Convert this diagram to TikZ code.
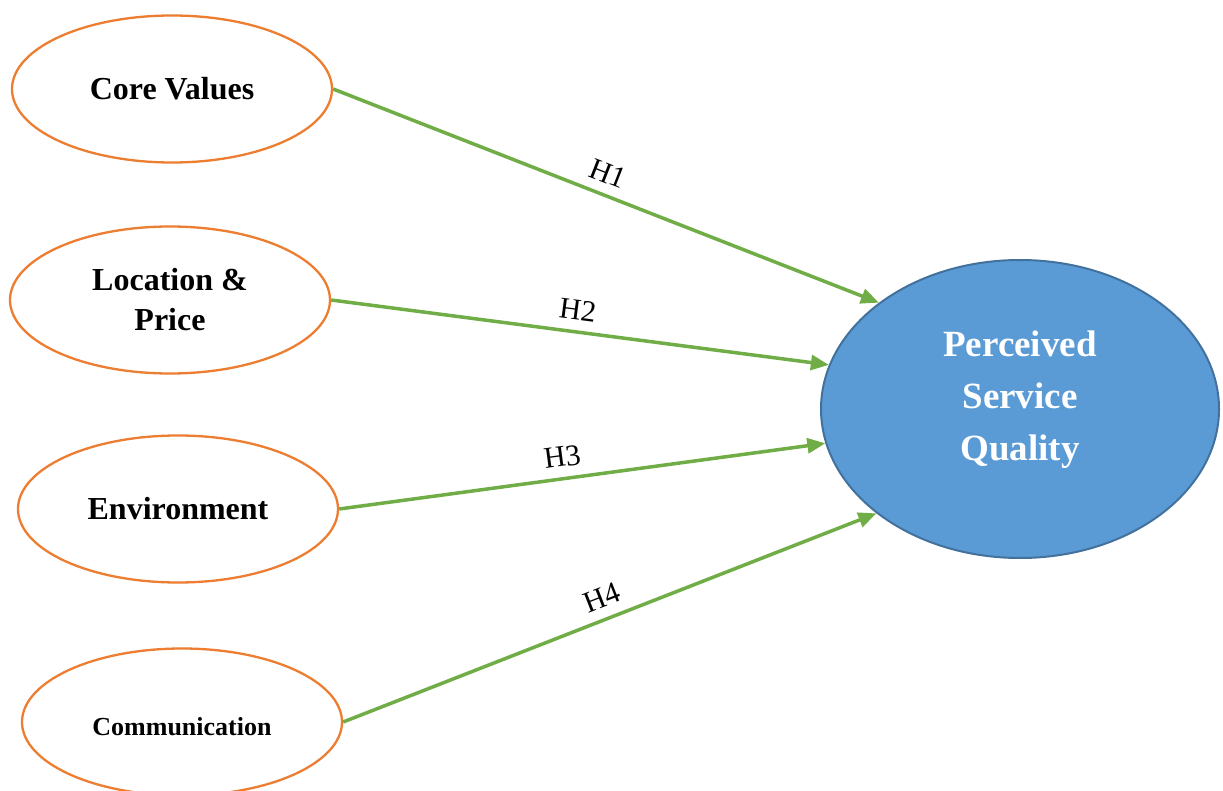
\documentclass[tikz,border=0pt]{standalone}
\usepackage{fontspec}
\setmainfont{Liberation Serif}
\usetikzlibrary{shapes.geometric,arrows.meta}
\definecolor{orangeline}{HTML}{ED7D31}
\definecolor{greenline}{HTML}{70AD47}
\definecolor{bluefill}{HTML}{5B9BD5}
\definecolor{blueline}{HTML}{41719C}
\tikzset{
  factor/.style={ellipse, draw=orangeline, line width=2.3pt, fill=white,
    minimum width=320pt, minimum height=147pt, inner sep=0pt, align=center,
    font=\fontsize{32}{40}\selectfont\bfseries},
  outcome/.style={ellipse, draw=blueline, line width=2pt, fill=bluefill,
    minimum width=398pt, minimum height=298pt, inner sep=0pt},
  outtext/.style={align=center, text=white, font=\fontsize{37}{52}\selectfont\bfseries},
  comtext/.style={font=\fontsize{26}{30}\selectfont\bfseries},
  link/.style={draw=greenline, line width=3.5pt, -{Triangle[length=18pt,width=15pt]}},
  hlab/.style={sloped, above=10pt, inner sep=0pt, font=\fontsize{30}{32}\selectfont}
}
\begin{document}
\begin{tikzpicture}[x=1pt,y=-1pt]
\useasboundingbox (0,0) rectangle (1223,791);
\begin{scope}
\clip (0,0) rectangle (1223,791);
\node[factor] (cv) at (172,89) {Core Values};
\node[factor] (lp) at (170,300) {Location \&\\Price};
\node[factor] (env) at (178,509) {Environment};
\node[factor] (com) at (182,722) {};
\node[comtext] (comt) at (182,727) {Communication};
\node[outcome] (psq) at (1020,409) {};
\node[outtext] (psqt) at (1020,400) {Perceived\\Service\\Quality};
\draw[link] (cv.east) -- node[hlab, pos=0.49] (h1) {H1} (psq.143);
\draw[link] (lp.east) -- node[hlab, pos=0.49] (h2) {H2} (psq.167.8);
\draw[link] (env.east) -- node[hlab, pos=0.465] (h3) {H3} (psq.190.2);
\draw[link] (com.east) -- node[hlab, pos=0.5] (h4) {H4} (psq.216.7);
\end{scope}
\end{tikzpicture}
\end{document}
